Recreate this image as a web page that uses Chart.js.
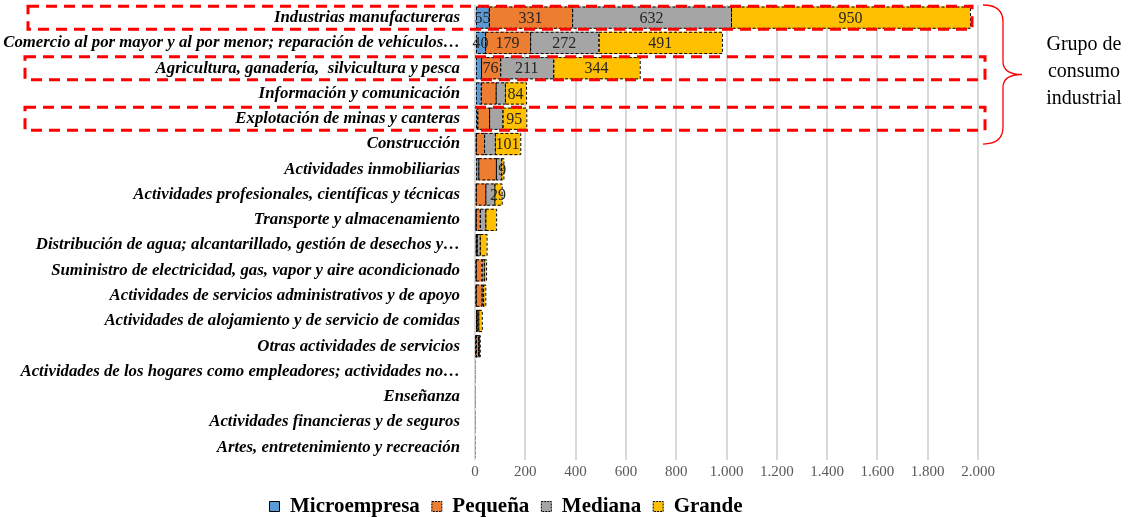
<!DOCTYPE html>
<html>
<head>
<meta charset="utf-8">
<script src="https://cdn.jsdelivr.net/npm/chart.js@4"></script>
<style>
  body { margin: 0; background: #fff; }
  #wrap { width: 1130px; height: 517px; position: relative; }
</style>
</head>
<body>
<div id="wrap"><canvas id="chart"></canvas></div>
<script>
// Categorías (tal como aparecen recortadas en el gráfico)
const categories = [
  'Industrias manufactureras',
  'Comercio al por mayor y al por menor; reparación de vehículos…',
  'Agricultura, ganadería,  silvicultura y pesca',
  'Información y comunicación',
  'Explotación de minas y canteras',
  'Construcción',
  'Actividades inmobiliarias',
  'Actividades profesionales, científicas y técnicas',
  'Transporte y almacenamiento',
  'Distribución de agua; alcantarillado, gestión de desechos y…',
  'Suministro de electricidad, gas, vapor y aire acondicionado',
  'Actividades de servicios administrativos y de apoyo',
  'Actividades de alojamiento y de servicio de comidas',
  'Otras actividades de servicios',
  'Actividades de los hogares como empleadores; actividades no…',
  'Enseñanza',
  'Actividades financieras y de seguros',
  'Artes, entretenimiento y recreación'
];

const microempresa = [55, 40, 24, 23, 9, 3, 13, 3, 2, 3, 2, 2, 4, 1, 0, 0, 0, 0];
const pequena      = [331, 179, 76, 59, 47, 33, 70, 38, 17, 4, 24, 24, 3, 11, 0, 0, 0, 0];
const mediana      = [632, 272, 211, 37, 53, 43, 21, 36, 22, 12, 9, 6, 6, 3, 0, 0, 0, 0];
const grande       = [950, 491, 344, 84, 95, 101, 9, 29, 43, 27, 9, 9, 14, 4, 0, 0, 0, 0];

const seriesNames = ['Microempresa', 'Pequeña', 'Mediana', 'Grande'];
const seriesColors = ['#5B9BD5', '#ED7D31', '#A5A5A5', '#FFC000'];
// cuántas filas (desde arriba) llevan etiqueta de valor en cada serie
const labelledRows = [2, 3, 3, 8];

const xTicksMax = 2000;
const xTicksStep = 200;

const groupRows = [0, 2, 4]; // filas encuadradas en rojo
const groupText = ['Grupo de', 'consumo', 'industrial'];

const serif = "'Liberation Serif', 'Times New Roman', serif";

function fmt(v) {
    return String(v).replace(/\B(?=(\d{3})+(?!\d))/g, '.');
}

// Bordes punteados y etiquetas de los segmentos
const segmentPlugin = {
    id: 'segments',
    afterDatasetsDraw(chart) {
        const ctx = chart.ctx;
        chart.data.datasets.forEach((ds, i) => {
            const meta = chart.getDatasetMeta(i);
            meta.data.forEach((bar, j) => {
                const p = bar.getProps(['x', 'y', 'base', 'height'], true);
                const left = Math.min(p.x, p.base);
                const w = Math.abs(p.x - p.base);
                ctx.save();
                ctx.lineWidth = 1;
                ctx.setLineDash([3, 2]);
                ctx.strokeStyle = ds.data[j] === 0 ? '#999' : '#000';
                ctx.strokeRect(left + 0.5, p.y - p.height / 2 + 0.5, w, p.height - 1);
                ctx.restore();

                if (j < labelledRows[i] && ds.data[j] > 0) {
                    ctx.save();
                    ctx.font = '16px ' + serif;
                    ctx.fillStyle = '#262626';
                    ctx.textAlign = 'center';
                    ctx.textBaseline = 'middle';
                    ctx.fillText(ds.data[j], left + w / 2, p.y + 1);
                    ctx.restore();
                }
            });
        });
    }
};

// Recuadros rojos y llave "Grupo de consumo industrial"
const groupPlugin = {
    id: 'group',
    afterLayout(chart) {
        // la leyenda del original está algo desplazada a la derecha
        chart.legend.left += 17;
        chart.legend.right += 17;
    },
    afterDraw(chart) {
        const ctx = chart.ctx;
        const area = chart.chartArea;
        const yScale = chart.scales.y;

        ctx.save();
        ctx.strokeStyle = '#FF0000';
        ctx.lineWidth = 3;
        ctx.setLineDash([11, 7]);
        groupRows.forEach((r, k) => {
            const yc = yScale.getPixelForValue(r);
            const left = k === 0 ? 28 : 25;
            const right = k === 0 ? area.right - 6 : area.right + 7;
            ctx.strokeRect(left, yc - 11.5, right - left, 23);
        });
        ctx.restore();

        const top = area.top;
        const bottom = yScale.getPixelForValue(5);
        const mid = (top + bottom) / 2;
        const x0 = area.right + 5;
        const x1 = x0 + 20;
        const x2 = x0 + 39;

        ctx.save();
        ctx.strokeStyle = '#FF0000';
        ctx.lineWidth = 1.3;
        ctx.beginPath();
        ctx.moveTo(x0, top);
        ctx.quadraticCurveTo(x1, top, x1, top + 17);
        ctx.lineTo(x1, mid - 13);
        ctx.quadraticCurveTo(x1, mid, x2, mid);
        ctx.quadraticCurveTo(x1, mid, x1, mid + 13);
        ctx.lineTo(x1, bottom - 17);
        ctx.quadraticCurveTo(x1, bottom, x0, bottom);
        ctx.stroke();

        ctx.fillStyle = '#000';
        ctx.font = '20px ' + serif;
        ctx.textAlign = 'center';
        ctx.textBaseline = 'middle';
        groupText.forEach((t, k) => {
            ctx.fillText(t, x0 + 101, mid - 30 + k * 27);
        });
        ctx.restore();
    }
};

document.addEventListener('DOMContentLoaded', () => {
    const ctx = document.getElementById('chart').getContext('2d');
    const values = [microempresa, pequena, mediana, grande];

    new Chart(ctx, {
        type: 'bar',
        data: {
            labels: categories,
            datasets: values.map((d, i) => ({
                label: seriesNames[i],
                data: d,
                backgroundColor: seriesColors[i],
                borderColor: '#000',
                borderWidth: 0,
                barPercentage: 0.88,
                categoryPercentage: 1
            }))
        },
        options: {
            indexAxis: 'y',
            responsive: true,
            maintainAspectRatio: false,
            animation: false,
            layout: { padding: { left: 0, right: 152, top: 5, bottom: -10 } },
            scales: {
                x: {
                    stacked: true,
                    min: 0,
                    max: xTicksMax,
                    ticks: {
                        stepSize: xTicksStep,
                        callback: v => fmt(v),
                        font: { family: serif, size: 15 },
                        color: '#595959',
                        padding: 3
                    },
                    grid: { color: '#D9D9D9', lineWidth: 2, drawTicks: false },
                    border: { display: false },
                    afterFit(scale) { scale.paddingLeft = 0; scale.paddingRight = 0; }
                },
                y: {
                    stacked: true,
                    grid: { display: false, drawTicks: false },
                    border: { display: false },
                    ticks: {
                        autoSkip: false,
                        font: { family: serif, size: 16.8, style: 'italic', weight: 'bold' },
                        color: '#000',
                        padding: 15
                    },
                    afterFit(scale) {
                        scale.width = 475;
                        scale.paddingTop = 0;
                        scale.paddingBottom = 0;
                    }
                }
            },
            plugins: {
                legend: {
                    position: 'bottom',
                    labels: {
                        boxWidth: 10,
                        boxHeight: 10,
                        padding: 12,
                        color: '#000',
                        font: { family: serif, size: 21, weight: 'bold' },
                        generateLabels(chart) {
                            const items = Chart.defaults.plugins.legend.labels.generateLabels(chart);
                            items.forEach(it => {
                                it.strokeStyle = '#000';
                                it.lineWidth = 1;
                                it.lineDash = it.datasetIndex === 0 ? [] : [2, 1];
                            });
                            return items;
                        }
                    }
                },
                tooltip: { enabled: false }
            }
        },
        plugins: [segmentPlugin, groupPlugin]
    });
});
</script>
</body>
</html>
